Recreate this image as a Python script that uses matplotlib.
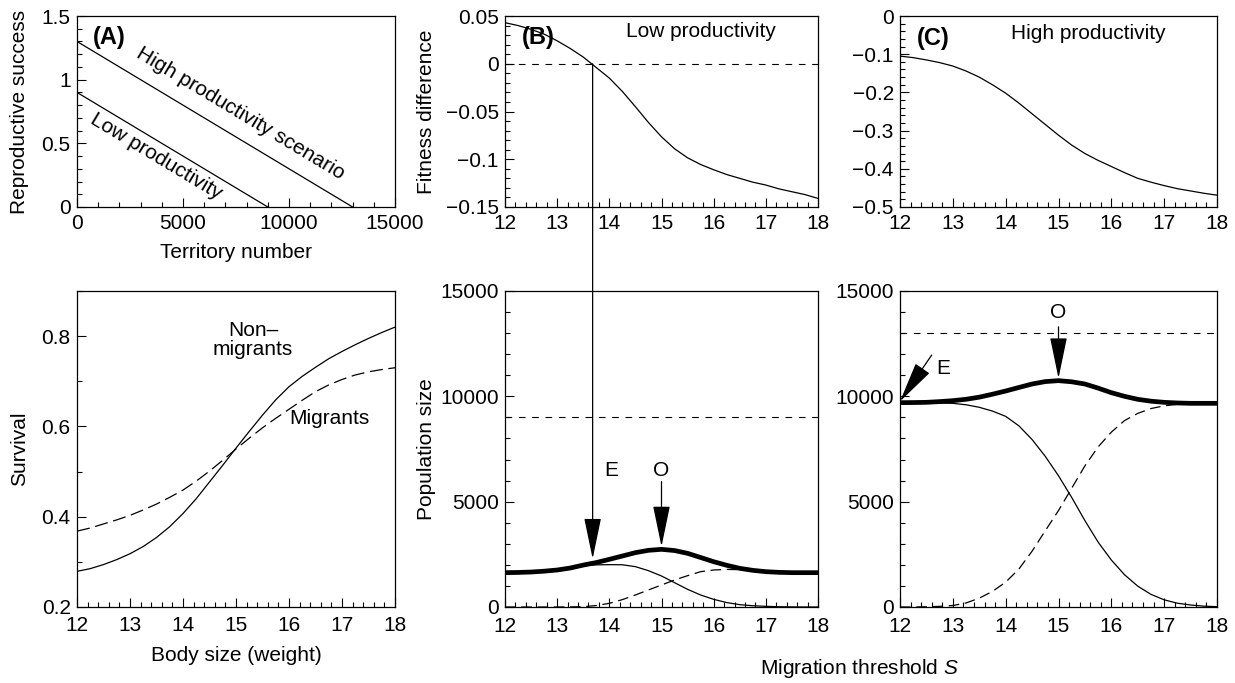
import matplotlib
matplotlib.use('Agg')
import matplotlib.pyplot as plt
import numpy as np
from matplotlib.ticker import MultipleLocator, FuncFormatter
from matplotlib.patches import ConnectionPatch

plt.rcParams['font.family'] = ['Liberation Sans', 'DejaVu Sans']
plt.rcParams['font.size'] = 15
plt.rcParams['mathtext.fontset'] = 'custom'
plt.rcParams['mathtext.it'] = 'Liberation Sans:italic'
plt.rcParams['mathtext.rm'] = 'Liberation Sans'

# panel A: reproductive success vs territory number
high_territory = [0, 13000]
high_success = [1.3, 0.0]
low_territory = [0, 9000]
low_success = [0.9, 0.0]

# survival vs body size
body_size = [12, 12.25, 12.5, 12.75, 13, 13.25, 13.5, 13.75, 14, 14.25, 14.5, 14.75, 15,
             15.25, 15.5, 15.75, 16, 16.25, 16.5, 16.75, 17, 17.25, 17.5, 17.75, 18]
surv_nonmig = [0.279, 0.285, 0.294, 0.305, 0.318, 0.334, 0.354, 0.378, 0.407, 0.440, 0.477, 0.514, 0.552,
               0.589, 0.625, 0.659, 0.688, 0.711, 0.731, 0.750, 0.766, 0.781, 0.795, 0.808, 0.820]
surv_mig = [0.368, 0.375, 0.384, 0.393, 0.403, 0.415, 0.428, 0.443, 0.459, 0.479, 0.501, 0.525, 0.550,
            0.574, 0.597, 0.618, 0.638, 0.658, 0.677, 0.692, 0.704, 0.714, 0.721, 0.726, 0.730]

# migration threshold S
thresh = [12, 12.25, 12.5, 12.75, 13, 13.25, 13.5, 13.75, 14, 14.25, 14.5, 14.75, 15,
          15.25, 15.5, 15.75, 16, 16.25, 16.5, 16.75, 17, 17.25, 17.5, 17.75, 18]

fit_low = [0.043, 0.040, 0.036, 0.031, 0.024, 0.016, 0.007, -0.004, -0.015, -0.029, -0.045, -0.0615, -0.0765,
           -0.089, -0.0985, -0.1055, -0.111, -0.116, -0.120, -0.124, -0.127, -0.131, -0.134, -0.137, -0.141]
fit_high = [-0.105, -0.109, -0.115, -0.122, -0.131, -0.144, -0.160, -0.180, -0.202, -0.228, -0.256, -0.284, -0.312,
            -0.338, -0.360, -0.378, -0.394, -0.410, -0.425, -0.435, -0.444, -0.452, -0.458, -0.464, -0.469]

pop_low_total = [1630, 1640, 1660, 1700, 1756, 1850, 1990, 2110, 2263, 2420, 2580, 2690, 2737,
                 2680, 2547, 2350, 2150, 1980, 1835, 1740, 1677, 1645, 1630, 1630, 1630]
pop_low_nonmig = [1630, 1640, 1660, 1700, 1750, 1840, 1960, 2000, 2010, 2005, 1915, 1725, 1472,
                  1155, 839, 570, 364, 210, 111, 60, 32, 12, 5, 0, 0]
pop_low_mig = [0, 0, 0, 0, 0, 5, 16, 70, 174, 350, 570, 810, 1044,
               1282, 1487, 1677, 1756, 1785, 1772, 1730, 1685, 1650, 1635, 1630, 1630]

pop_high_total = [9699, 9705, 9715, 9750, 9794, 9860, 9960, 10100, 10253, 10420, 10585, 10700, 10744,
                  10690, 10585, 10390, 10174, 10000, 9858, 9770, 9715, 9685, 9668, 9668, 9668]
pop_high_nonmig = [9699, 9697, 9690, 9680, 9668, 9600, 9480, 9300, 9050, 8600, 7950, 7150, 6230,
                   5200, 4100, 3080, 2231, 1530, 990, 600, 340, 180, 95, 40, 16]
pop_high_mig = [0, 0, 10, 30, 70, 190, 420, 740, 1180, 1800, 2650, 3620, 4580,
                5640, 6700, 7600, 8300, 8850, 9190, 9420, 9550, 9620, 9660, 9690, 9699]

carrying_low = 9000
carrying_high = 13000
ess_low, opt_low = 13.68, 15.0
ess_high, opt_high = 12.0, 15.0

W, H = 1235, 683
fig = plt.figure(figsize=(W / 100, H / 100), dpi=100)


def rect(l, r, t, b):
    return [l / W, 1 - b / H, (r - l) / W, (b - t) / H]


axA = fig.add_axes(rect(77, 395, 16, 207))
axB = fig.add_axes(rect(505, 818, 16, 207))
axC = fig.add_axes(rect(900, 1217, 16, 207))
axS = fig.add_axes(rect(77, 395, 291, 607))
axPB = fig.add_axes(rect(505, 818, 291, 607))
axPC = fig.add_axes(rect(900, 1217, 291, 607))


def tick_fmt(v, p):
    v = round(v, 8)
    if v == 0:
        return '0'
    return f'{v:g}'.replace('-', '\u2212')


fmt = FuncFormatter(tick_fmt)


def style(ax, xlim, ylim, xmaj, xmin, ymaj, ymin, xpad=5):
    ax.set_xlim(*xlim)
    ax.set_ylim(*ylim)
    ax.xaxis.set_major_locator(MultipleLocator(xmaj))
    ax.xaxis.set_minor_locator(MultipleLocator(xmin))
    ax.yaxis.set_major_locator(MultipleLocator(ymaj))
    ax.yaxis.set_minor_locator(MultipleLocator(ymin))
    ax.xaxis.set_major_formatter(fmt)
    ax.yaxis.set_major_formatter(fmt)
    ax.tick_params(which='both', direction='in', top=False, right=False, width=0.8, labelsize=15)
    ax.tick_params(which='major', length=6.5)
    ax.tick_params(axis='x', which='major', pad=xpad)
    ax.tick_params(axis='y', which='major', pad=4.5)
    ax.tick_params(which='minor', length=3.6)
    for s in ax.spines.values():
        s.set_linewidth(0.9)


thin = dict(color='black', lw=0.9)

# (A)
style(axA, (0, 15000), (0, 1.5), 5000, 1000, 0.5, 0.1)
axA.plot(high_territory, high_success, **thin)
axA.plot(low_territory, low_success, **thin)
p0 = axA.transData.transform((0, 1.3))
p1 = axA.transData.transform((13000, 0))
ang = np.degrees(np.arctan2(p1[1] - p0[1], p1[0] - p0[0]))
axA.text(7712, 0.738, 'High productivity scenario', rotation=ang, rotation_mode='anchor',
         ha='center', va='center')
axA.text(3750, 0.397, 'Low productivity', rotation=ang, rotation_mode='anchor',
         ha='center', va='center')
axA.set_xlabel('Territory number')
axA.set_ylabel('Reproductive success')
axA.xaxis.set_label_coords(0.5, -0.19)
axA.yaxis.set_label_coords(-0.15, 0.5)
axA.text(0.05, 0.885, '(A)', transform=axA.transAxes, fontsize=17, fontweight='bold', va='center')

# fitness differences
style(axB, (12, 18), (-0.15, 0.05), 1, 0.2, 0.05, 0.01)
axB.plot(thresh, fit_low, **thin)
axB.axhline(0, color='black', lw=0.8, ls=(0, (6, 6)))
axB.set_ylabel('Fitness difference')
axB.yaxis.set_label_coords(-0.22, 0.5)
axB.text(0.053, 0.887, '(B)', transform=axB.transAxes, fontsize=17, fontweight='bold', va='center')
axB.text(0.626, 0.918, 'Low productivity', transform=axB.transAxes, ha='center', va='center')

style(axC, (12, 18), (-0.5, 0), 1, 0.2, 0.1, 0.02)
axC.plot(thresh, fit_high, **thin)
axC.text(0.053, 0.88, '(C)', transform=axC.transAxes, fontsize=17, fontweight='bold', va='center')
axC.text(0.593, 0.909, 'High productivity', transform=axC.transAxes, ha='center', va='center')

# survival
style(axS, (12, 18), (0.2, 0.9), 1, 0.2, 0.2, 0.1, xpad=6.5)
axS.plot(body_size, surv_nonmig, **thin)
axS.plot(body_size, surv_mig, color='black', lw=0.9, ls=(0, (10.5, 4.5)))
axS.text(15.32, 0.791, 'Non\u2013\nmigrants', ha='center', va='center', linespacing=1.0)
axS.text(16.77, 0.618, 'Migrants', ha='center', va='center')
axS.set_xlabel('Body size (weight)')
axS.set_ylabel('Survival')
axS.xaxis.set_label_coords(0.5, -0.123)
axS.yaxis.set_label_coords(-0.15, 0.5)

# population sizes
for ax, tot, nm, mg, K in [(axPB, pop_low_total, pop_low_nonmig, pop_low_mig, carrying_low),
                           (axPC, pop_high_total, pop_high_nonmig, pop_high_mig, carrying_high)]:
    style(ax, (12, 18), (0, 15000), 1, 0.2, 5000, 1000, xpad=7)
    ax.plot(thresh, nm, **thin)
    ax.plot(thresh, mg, color='black', lw=0.9, ls=(0, (8.5, 4.5)))
    ax.plot(thresh, tot, color='black', lw=3.4, solid_capstyle='butt')
    ax.axhline(K, color='black', lw=0.8, ls=(0, (6, 6)))

axPB.set_ylabel('Population size')
axPB.yaxis.set_label_coords(-0.22, 0.5)
fig.text(860 / W, 1 - 668 / H, 'Migration threshold $S$', ha='center', va='center', fontsize=15)

astyle = '-|>,head_length=1.3,head_width=0.27'


def arrow(ax_tail, tail, ax_tip, tip):
    con = ConnectionPatch(xyA=tail, coordsA=ax_tail.transData, xyB=tip, coordsB=ax_tip.transData,
                          arrowstyle=astyle, mutation_scale=20, lw=0.9, color='black',
                          shrinkA=0, shrinkB=0)
    fig.add_artist(con)


# E and O arrows
arrow(axB, (ess_low, 0), axPB, (ess_low, 2290))
arrow(axPB, (opt_low, 5950), axPB, (opt_low, 2870))
axPB.text(14.04, 6500, 'E', ha='center', va='center')
axPB.text(opt_low, 6500, 'O', ha='center', va='center')

arrow(axPC, (12.6, 11960), axPC, (ess_high, 9760))
arrow(axPC, (opt_high, 13300), axPC, (opt_high, 10860))
axPC.text(12.82, 11330, 'E', ha='center', va='center')
axPC.text(opt_high, 14000, 'O', ha='center', va='center')

fig.savefig('out.png', dpi=100)
